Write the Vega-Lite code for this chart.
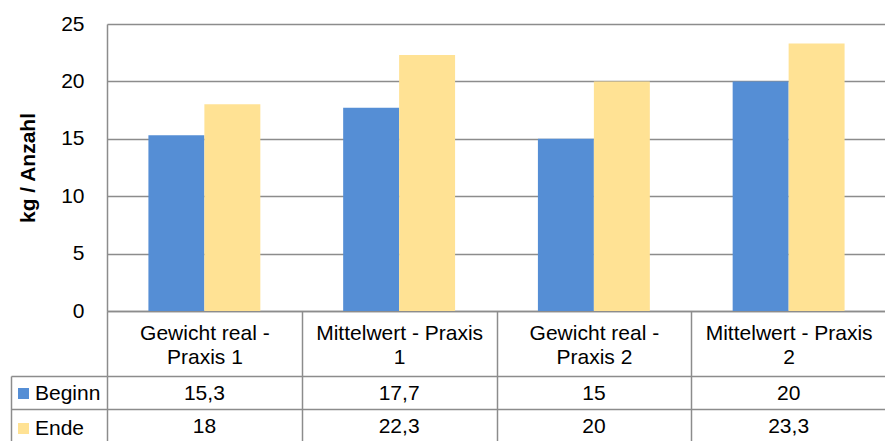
{
  "$schema": "https://vega.github.io/schema/vega-lite/v6.json",
  "padding": {"left": 10, "top": 13, "right": 0, "bottom": 0},
  "background": "white",
  "spacing": 65,
  "bounds": "flush",
  "config": {
    "view": {"stroke": null},
    "font": "Liberation Sans",
    "locale": {"number": {"decimal": ",", "thousands": ".", "grouping": [3], "currency": ["", " €"]}},
    "axis": {"labelFont": "Liberation Sans", "labelFontSize": 21, "labelColor": "#000000", "titleFont": "Liberation Sans"}
  },
  "data": {"values": [
    {"category": "Gewicht real - Praxis 1", "series": "Beginn", "value": 15.3},
    {"category": "Gewicht real - Praxis 1", "series": "Ende", "value": 18},
    {"category": "Mittelwert - Praxis 1", "series": "Beginn", "value": 17.7},
    {"category": "Mittelwert - Praxis 1", "series": "Ende", "value": 22.3},
    {"category": "Gewicht real - Praxis 2", "series": "Beginn", "value": 15},
    {"category": "Gewicht real - Praxis 2", "series": "Ende", "value": 20},
    {"category": "Mittelwert - Praxis 2", "series": "Beginn", "value": 20},
    {"category": "Mittelwert - Praxis 2", "series": "Ende", "value": 23.3}
  ]},
  "resolve": {"scale": {"color": "independent"}, "legend": {"color": "independent"}},
  "vconcat": [
    {
      "width": 779,
      "height": 287,
      "mark": {"type": "bar"},
      "encoding": {
        "x": {
          "field": "category", "type": "nominal", "sort": null,
          "scale": {"paddingInner": 0, "paddingOuter": 0},
          "axis": {
            "title": null, "orient": "bottom", "tickBand": "extent",
            "domain": true, "domainColor": "#8c8c8c", "domainWidth": 1.5,
            "ticks": true, "tickSize": 65, "tickColor": "#8c8c8c", "tickWidth": 1.5,
            "labelAngle": 0, "labelPadding": -54,
            "labelBaseline": "top", "labelLineHeight": 24, "labelAlign": "center",
            "labelLimit": 0, "grid": false,
            "labelExpr": "indexof(datum.label, 'Gewicht') == 0 ? ['Gewicht real -', substring(datum.label, 15)] : [substring(datum.label, 0, lastindexof(datum.label, ' ')), substring(datum.label, lastindexof(datum.label, ' ') + 1)]"
          }
        },
        "xOffset": {"field": "series", "type": "nominal", "sort": ["Beginn", "Ende"], "scale": {"paddingInner": 0, "paddingOuter": 0.74}},
        "y": {
          "field": "value", "type": "quantitative",
          "scale": {"domain": [0, 25]},
          "axis": {
            "values": [0, 5, 10, 15, 20, 25],
            "title": "kg / Anzahl", "titleFontSize": 21, "titleFontWeight": "bold", "titleColor": "#000000", "titlePadding": 22,
            "domain": true, "domainColor": "#8c8c8c", "domainWidth": 1.5,
            "ticks": false, "labelPadding": 23,
            "grid": true, "gridColor": "#8c8c8c", "gridWidth": 1.5
          }
        },
        "color": {
          "field": "series", "type": "nominal",
          "scale": {"domain": ["Beginn", "Ende"], "range": ["#558ed5", "#ffe294"]},
          "legend": {
            "orient": "none", "legendX": -94, "legendY": 359, "title": null,
            "symbolType": "square", "symbolSize": 121, "symbolStrokeWidth": 0,
            "labelFontSize": 21, "labelFont": "Liberation Sans", "labelColor": "#000000",
            "labelOffset": 1, "rowPadding": 13, "padding": 0
          }
        }
      }
    },
    {
      "width": 779,
      "height": 66,
      "mark": {"type": "text", "fontSize": 21, "color": "#000000", "font": "Liberation Sans", "dy": 1},
      "encoding": {
        "x": {
          "field": "category", "type": "nominal", "sort": null,
          "scale": {"paddingInner": 0, "paddingOuter": 0},
          "axis": {"orient": "top", "title": null, "labels": false, "ticks": false, "domain": false, "grid": true, "tickBand": "extent", "gridColor": "#8c8c8c", "gridWidth": 1.5}
        },
        "y": {
          "field": "series", "type": "nominal", "sort": ["Beginn", "Ende"],
          "scale": {"paddingInner": 0, "paddingOuter": 0},
          "axis": {"title": null, "labels": false, "offset": 96, "domain": true, "domainColor": "#8c8c8c", "domainWidth": 1.5, "ticks": true, "tickSize": -96, "tickColor": "#8c8c8c", "tickWidth": 1.5, "grid": true, "tickBand": "extent", "gridColor": "#8c8c8c", "gridWidth": 1.5}
        },
        "text": {"field": "value", "type": "quantitative", "format": "~r"}
      }
    }
  ]
}
